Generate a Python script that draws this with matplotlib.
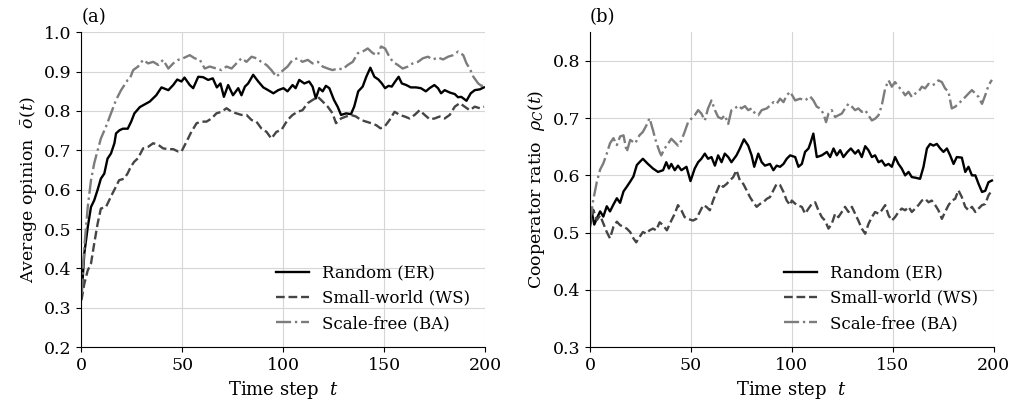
import matplotlib
matplotlib.use("Agg")
import numpy as np
import matplotlib.pyplot as plt

plt.rcParams['font.family'] = 'DejaVu Serif'
plt.rcParams['mathtext.fontset'] = 'dejavuserif'
plt.rcParams['font.size'] = 12.5

# (time step, value)
# panel (a): average opinion
er_a = [(0, 0.327), (1.4, 0.438), (3.1, 0.505), (4.7, 0.556), (6.3, 0.573), (8, 0.600), (9.6, 0.628),
        (11.3, 0.641), (12.9, 0.679), (14.6, 0.692), (16.3, 0.718), (17.1, 0.743), (18.8, 0.751),
        (20.5, 0.755), (22.9, 0.755), (24.6, 0.773), (26.2, 0.794), (28.9, 0.81), (33.8, 0.824),
        (37, 0.84), (39.6, 0.86), (43, 0.853), (45.4, 0.866), (47.4, 0.88), (49.5, 0.875), (51, 0.885),
        (53.6, 0.866), (55.3, 0.858), (57.8, 0.887), (60.2, 0.886), (62.7, 0.879), (65, 0.883),
        (67, 0.86), (68.8, 0.87), (70.5, 0.836), (72.6, 0.866), (75, 0.84), (77.6, 0.858), (79.2, 0.84),
        (80.9, 0.862), (82.5, 0.87), (85, 0.892), (87.5, 0.875), (90, 0.86), (92.4, 0.853), (95, 0.845),
        (97.4, 0.853), (100, 0.858), (102, 0.85), (104.5, 0.866), (106, 0.858), (107.8, 0.879),
        (110.3, 0.87), (112.7, 0.875), (114.4, 0.862), (116, 0.832), (117.7, 0.858), (119.4, 0.85),
        (121, 0.864), (122.7, 0.858), (125, 0.828), (126.8, 0.811), (128.5, 0.79), (131, 0.794),
        (133.4, 0.792), (135, 0.811), (137, 0.85), (139.2, 0.862), (141, 0.887), (143, 0.91),
        (145, 0.887), (147, 0.88), (148.7, 0.87), (150.3, 0.858), (152, 0.864), (153.6, 0.862),
        (155.3, 0.875), (157, 0.887), (158.6, 0.87), (160.8, 0.866), (163, 0.86), (165.6, 0.86),
        (168, 0.858), (170.5, 0.85), (172.3, 0.858), (174.7, 0.866), (176.5, 0.858), (178, 0.845),
        (179.8, 0.853), (182.3, 0.847), (184.8, 0.843), (186.4, 0.835), (188, 0.836), (190.6, 0.826),
        (192.7, 0.845), (194.7, 0.853), (197.2, 0.855), (199.2, 0.86)]

ws_a = [(0, 0.319), (1.4, 0.361), (3.1, 0.395), (4.7, 0.412), (6.3, 0.463), (8, 0.514), (9.6, 0.552),
        (12.1, 0.556), (13.7, 0.573), (15.3, 0.59), (17, 0.607), (18.6, 0.624), (21.1, 0.628),
        (22.8, 0.641), (24.4, 0.658), (26.1, 0.671), (28, 0.68), (30.5, 0.705), (33, 0.709),
        (35.5, 0.718), (38, 0.714), (40.4, 0.705), (43, 0.703), (45.4, 0.703), (47.9, 0.697),
        (49.5, 0.697), (52, 0.722), (54.4, 0.747), (57, 0.769), (59.4, 0.773), (61.9, 0.773),
        (64.4, 0.781), (66.8, 0.794), (69.3, 0.798), (71.8, 0.807), (74.3, 0.798), (76.7, 0.794),
        (79.2, 0.79), (81.7, 0.79), (84.2, 0.777), (86.6, 0.773), (89, 0.756), (91.6, 0.747), (94, 0.73),
        (96.5, 0.747), (99, 0.752), (102, 0.777), (104.5, 0.79), (107, 0.798), (109.4, 0.802),
        (112, 0.82), (114.4, 0.828), (117, 0.836), (119.4, 0.824), (121.9, 0.811), (124.3, 0.794),
        (126, 0.769), (128.5, 0.781), (131, 0.786), (133.4, 0.79), (135.9, 0.786), (138.4, 0.777),
        (140.9, 0.773), (143.4, 0.769), (145.9, 0.764), (148, 0.756), (150.3, 0.762), (152.5, 0.777),
        (155, 0.798), (157.5, 0.79), (160, 0.786), (162.4, 0.781), (164.9, 0.79), (167.4, 0.802),
        (169.9, 0.79), (172.4, 0.779), (174.8, 0.781), (177.3, 0.786), (179.8, 0.781), (182.3, 0.79),
        (184.8, 0.811), (187.3, 0.82), (189.7, 0.811), (192.2, 0.802), (194.7, 0.811), (197.2, 0.807),
        (199.2, 0.811)]

ba_a = [(0, 0.336), (1.4, 0.455), (3.1, 0.556), (4.7, 0.624), (6.3, 0.667), (8, 0.7), (9.6, 0.73),
        (12.1, 0.76), (14.6, 0.794), (17.1, 0.828), (19.6, 0.853), (22.9, 0.879), (24, 0.883),
        (25.6, 0.904), (28, 0.913), (30.5, 0.93), (33, 0.921), (35.5, 0.925), (38, 0.917), (40.4, 0.93),
        (43, 0.908), (45.4, 0.921), (47.9, 0.93), (50.3, 0.934), (53.6, 0.942), (56, 0.934),
        (58.6, 0.93), (61, 0.908), (63.5, 0.913), (66.8, 0.908), (69.3, 0.904), (71.8, 0.913),
        (74.3, 0.908), (76.7, 0.921), (79.2, 0.934), (81.7, 0.925), (84.2, 0.938), (86.6, 0.934),
        (89, 0.925), (91.6, 0.917), (94, 0.904), (96.5, 0.887), (99, 0.9), (102, 0.913), (104.5, 0.93),
        (107, 0.934), (109.4, 0.925), (112, 0.93), (114.4, 0.921), (117, 0.925), (119.4, 0.913),
        (121.9, 0.908), (124.3, 0.904), (126.8, 0.908), (129.3, 0.906), (131.8, 0.917), (134.3, 0.925),
        (136.8, 0.947), (139.2, 0.951), (141.7, 0.959), (144.2, 0.947), (146.7, 0.942), (148.3, 0.964),
        (150.3, 0.959), (152, 0.942), (154.1, 0.925), (156.6, 0.917), (159, 0.908), (161.6, 0.913),
        (164, 0.921), (166.6, 0.925), (169, 0.934), (171.5, 0.938), (174, 0.931), (176.5, 0.936),
        (179, 0.931), (181.5, 0.938), (184, 0.942), (186.4, 0.951), (189, 0.942), (190.6, 0.921),
        (192.2, 0.908), (194, 0.887), (196.4, 0.87), (198, 0.864), (200, 0.865)]

# panel (b): cooperator ratio
er_b = [(0, 0.522), (1, 0.534), (2.1, 0.514), (3.4, 0.525), (5, 0.537), (6.6, 0.528), (8.3, 0.546),
        (9.9, 0.537), (11.6, 0.549), (13.3, 0.56), (14.9, 0.552), (16.6, 0.572), (18.2, 0.58),
        (19.9, 0.589), (21.5, 0.598), (23.2, 0.618), (24.5, 0.623), (26.2, 0.629), (28.7, 0.62),
        (31.2, 0.612), (33.7, 0.606), (36.2, 0.609), (37.8, 0.623), (39.1, 0.612), (40.3, 0.62),
        (42, 0.609), (43.6, 0.617), (45.3, 0.609), (47.8, 0.615), (49.8, 0.59), (51.9, 0.612),
        (53.6, 0.623), (55.2, 0.629), (56.9, 0.638), (58.5, 0.629), (60.2, 0.632), (61.9, 0.617),
        (63.5, 0.635), (65.2, 0.623), (66.8, 0.638), (68.5, 0.632), (70.1, 0.623), (72.6, 0.635),
        (74.3, 0.647), (76.3, 0.663), (78.4, 0.652), (80.1, 0.635), (81.4, 0.615), (83.4, 0.638),
        (85.1, 0.623), (86.7, 0.617), (89.2, 0.62), (90.9, 0.609), (92.5, 0.617), (94.2, 0.615),
        (95.9, 0.62), (97.5, 0.629), (99.2, 0.635), (101.7, 0.632), (103.3, 0.615), (105, 0.62),
        (106.6, 0.641), (108.3, 0.647), (109.4, 0.658), (110.7, 0.673), (112.4, 0.632), (114.9, 0.635),
        (117.4, 0.641), (119, 0.632), (120.7, 0.647), (122.3, 0.635), (124, 0.644), (125.6, 0.632),
        (127.6, 0.641), (129.3, 0.647), (131.4, 0.638), (133, 0.644), (134.7, 0.632), (136.4, 0.651),
        (138, 0.644), (139.7, 0.632), (141.3, 0.635), (143, 0.623), (144.6, 0.626), (146.3, 0.617),
        (148, 0.62), (149.6, 0.615), (151.2, 0.632), (152.9, 0.62), (154.5, 0.612), (156.2, 0.6),
        (157.9, 0.606), (159.5, 0.597), (161.2, 0.596), (163.6, 0.594), (165.3, 0.615), (167, 0.647),
        (168.6, 0.655), (170.2, 0.652), (171.9, 0.655), (173.6, 0.647), (175.2, 0.641), (176.9, 0.647),
        (178.5, 0.635), (180.2, 0.62), (181.8, 0.632), (184.3, 0.631), (186, 0.606), (187.6, 0.615),
        (189.3, 0.6), (191, 0.6), (192.6, 0.585), (194.3, 0.571), (195.9, 0.573), (197.5, 0.588),
        (199.2, 0.591)]

ws_b = [(0, 0.51), (1.6, 0.54), (3.4, 0.522), (5, 0.53), (6.6, 0.516), (8.3, 0.501), (9.9, 0.49),
        (11.6, 0.51), (13.3, 0.519), (14.9, 0.513), (16.6, 0.51), (18.2, 0.507), (19.9, 0.501),
        (21.5, 0.49), (22.9, 0.483), (24.5, 0.492), (26.2, 0.501), (27.9, 0.498), (29.5, 0.504),
        (31.2, 0.507), (32.8, 0.504), (34.5, 0.518), (36.2, 0.513), (38.1, 0.504), (40.3, 0.521),
        (42, 0.533), (43.6, 0.548), (45.3, 0.539), (46.9, 0.527), (48.6, 0.524), (51, 0.521),
        (52.7, 0.524), (54.4, 0.536), (56.1, 0.548), (57.7, 0.545), (59.4, 0.539), (61, 0.556),
        (62.7, 0.571), (64.4, 0.585), (66, 0.58), (67.7, 0.585), (69.3, 0.591), (71, 0.597),
        (72.6, 0.609), (74.3, 0.591), (76, 0.585), (77.6, 0.574), (79.3, 0.562), (80.9, 0.553),
        (82.6, 0.545), (84.2, 0.55), (85.9, 0.553), (87.6, 0.559), (89.2, 0.562), (90.9, 0.574),
        (92.5, 0.585), (94.2, 0.583), (95.9, 0.571), (97.5, 0.556), (99.2, 0.548), (100, 0.556),
        (102.5, 0.548), (105, 0.545), (106.6, 0.533), (108.3, 0.542), (109.9, 0.55), (111.6, 0.553),
        (113.2, 0.539), (114.9, 0.527), (116.5, 0.521), (118.2, 0.507), (119.8, 0.515), (121.5, 0.533),
        (123.1, 0.527), (124.8, 0.536), (126.4, 0.545), (128.1, 0.536), (129.8, 0.545), (131.4, 0.533),
        (133, 0.521), (134.7, 0.507), (136.4, 0.498), (138, 0.515), (139.7, 0.527), (141.3, 0.536),
        (143, 0.533), (144.6, 0.539), (146.3, 0.548), (148, 0.53), (149.6, 0.521), (151.2, 0.527),
        (152.9, 0.536), (154.5, 0.542), (156.2, 0.539), (157.9, 0.545), (159.5, 0.536), (161.2, 0.542),
        (162.8, 0.548), (164.5, 0.556), (166.1, 0.559), (167.8, 0.553), (169.4, 0.556), (171.1, 0.548),
        (172.7, 0.539), (174.4, 0.524), (176, 0.536), (177.7, 0.548), (179.3, 0.556), (181, 0.559),
        (182.6, 0.574), (184.3, 0.562), (186, 0.545), (187.6, 0.539), (189.3, 0.545), (191, 0.536),
        (192.6, 0.542), (194.3, 0.548), (195.9, 0.55), (197.5, 0.565), (199.2, 0.574)]

ba_b = [(0, 0.52), (1.6, 0.557), (3.4, 0.589), (5, 0.61), (6.6, 0.621), (8.3, 0.638), (9.9, 0.656),
        (11.6, 0.665), (13.3, 0.653), (14.9, 0.668), (16.6, 0.67), (18.2, 0.641), (19.9, 0.662),
        (22.4, 0.656), (24.5, 0.67), (26.2, 0.676), (27.9, 0.687), (29.5, 0.7), (31.2, 0.679),
        (32.8, 0.658), (34.5, 0.641), (35.3, 0.635), (37, 0.647), (38.6, 0.655), (40.3, 0.664),
        (42, 0.658), (43.6, 0.652), (45.3, 0.661), (46.9, 0.676), (48.6, 0.693), (50.2, 0.699),
        (51.9, 0.705), (53.6, 0.714), (55.2, 0.708), (56.9, 0.696), (58.5, 0.717), (60.2, 0.731),
        (61.9, 0.714), (63.5, 0.702), (65.2, 0.699), (66.8, 0.705), (68.5, 0.69), (70.1, 0.714),
        (71.8, 0.717), (73.5, 0.722), (75.1, 0.717), (76.8, 0.721), (78.4, 0.714), (80.1, 0.717),
        (81.8, 0.708), (83.4, 0.705), (85.1, 0.714), (87.6, 0.717), (89.2, 0.722), (90.9, 0.728),
        (92.5, 0.725), (94.2, 0.734), (95.9, 0.728), (97.5, 0.74), (99.2, 0.746), (101.7, 0.731),
        (104.1, 0.734), (106.6, 0.731), (109.1, 0.738), (110.7, 0.731), (112.4, 0.72), (114, 0.717),
        (115.7, 0.708), (117, 0.693), (118.2, 0.708), (119.8, 0.714), (121.5, 0.702), (123.1, 0.705),
        (124.8, 0.708), (126.4, 0.717), (128.1, 0.725), (129.8, 0.72), (131.4, 0.714), (133, 0.717),
        (134.7, 0.711), (136.4, 0.714), (138, 0.705), (139.7, 0.696), (141.3, 0.699), (143, 0.705),
        (144.6, 0.722), (146.3, 0.752), (148, 0.766), (149.6, 0.755), (151.2, 0.763), (152.9, 0.755),
        (154.5, 0.749), (156.2, 0.74), (157.9, 0.746), (159.5, 0.737), (161.2, 0.743), (162.8, 0.746),
        (164.5, 0.755), (166.1, 0.752), (167.8, 0.76), (169.4, 0.757), (171.1, 0.76), (172.7, 0.766),
        (174.4, 0.763), (176, 0.752), (177.7, 0.746), (179.3, 0.717), (181, 0.72), (182.6, 0.725),
        (184.3, 0.731), (186, 0.737), (187.6, 0.743), (189.3, 0.749), (191, 0.743), (192.6, 0.737),
        (194.3, 0.725), (195.9, 0.74), (197.5, 0.757), (199.2, 0.767)]

labels = ['Random (ER)', 'Small-world (WS)', 'Scale-free (BA)']
x_ticks = [0, 50, 100, 150, 200]
y_ticks_a = [0.2, 0.3, 0.4, 0.5, 0.6, 0.7, 0.8, 0.9, 1.0]
y_ticks_b = [0.3, 0.4, 0.5, 0.6, 0.7, 0.8]

styles = [dict(color='black', ls='-'),
          dict(color='#454545', ls='--'),
          dict(color='#7c7c7c', ls='-.')]

fig = plt.figure(figsize=(10.11, 4.04), dpi=100)
ax1 = fig.add_axes([0.0806, 0.141, 0.3996, 0.779])
ax2 = fig.add_axes([0.5836, 0.141, 0.3991, 0.779])

panels = [(ax1, [er_a, ws_a, ba_a], '(a)', r'Average opinion  $\bar{o}(t)$', (0.2, 1.0), y_ticks_a),
          (ax2, [er_b, ws_b, ba_b], '(b)', r'Cooperator ratio  $\rho_C(t)$', (0.3, 0.85), y_ticks_b)]

for ax, series, tag, ylab, ylim, yticks in panels:
    for data, lab, st in zip(series, labels, styles):
        t, v = np.array(data).T
        ax.plot(t, v, lw=1.7, label=lab, **st)
    ax.set_xlim(0, 200)
    ax.set_ylim(*ylim)
    ax.set_xticks(x_ticks)
    ax.set_yticks(yticks)
    ax.set_yticklabels([f'{y:.1f}' for y in yticks])
    ax.tick_params(labelsize=12.5)
    ax.grid(True, color='#d6d6d6', lw=0.8)
    ax.set_axisbelow(True)
    ax.spines['top'].set_visible(False)
    ax.spines['right'].set_visible(False)
    ax.set_xlabel(r'Time step  $t$', fontsize=13)
    ax.set_ylabel(ylab, fontsize=12.5)
    ax.text(0.0, 1.02, tag, transform=ax.transAxes, ha='left', va='bottom', fontsize=13)
    ax.legend(loc='lower right', frameon=False, handlelength=2.0, fontsize=12)

fig.savefig('out.png', dpi=100)
